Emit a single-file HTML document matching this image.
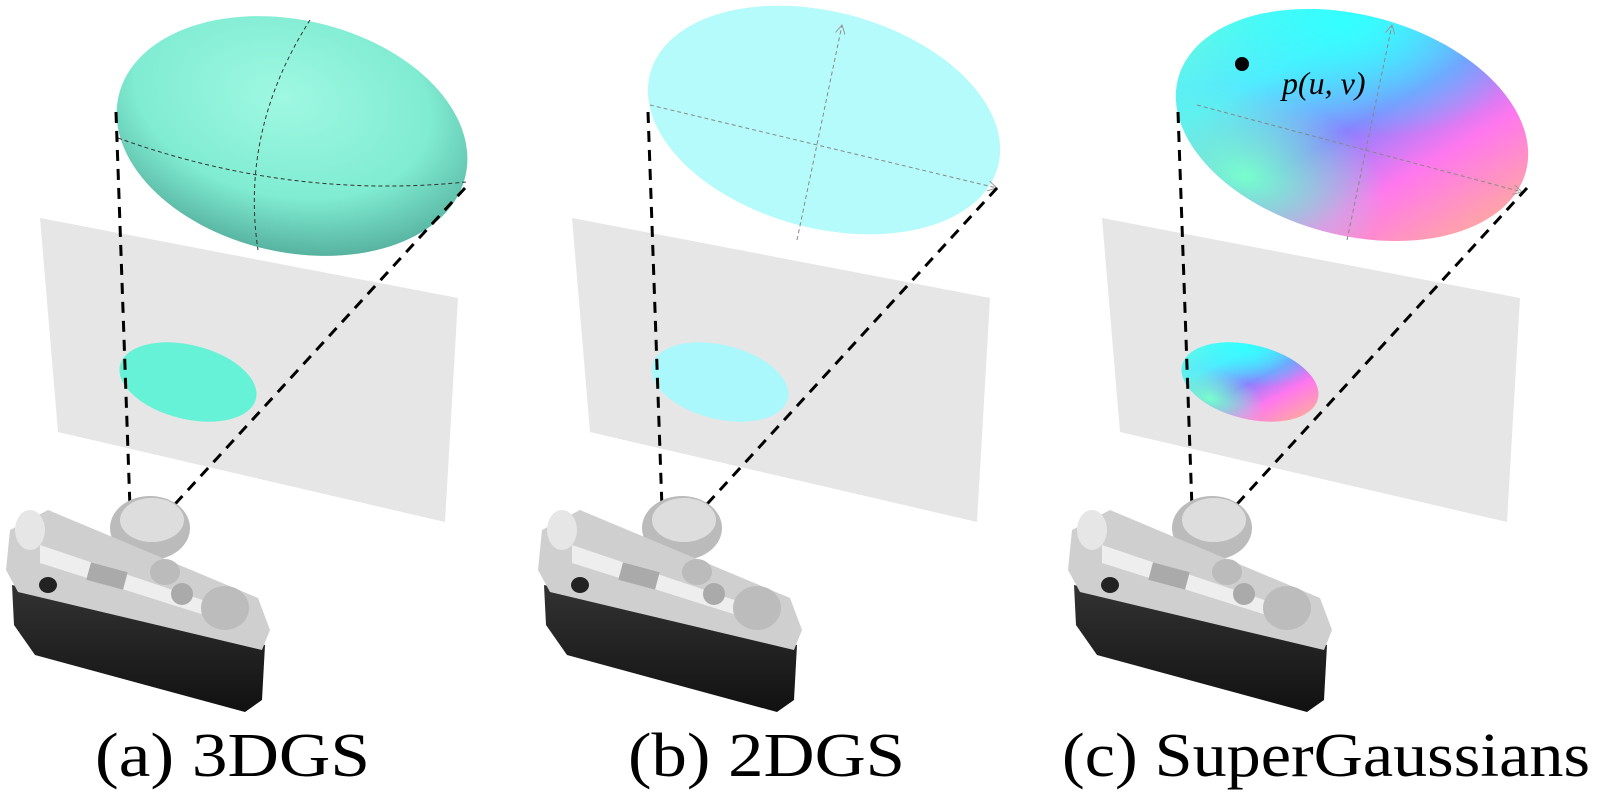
<!DOCTYPE html>
<html><head><meta charset="utf-8"><style>
html,body{margin:0;padding:0;background:#fff;}
svg{display:block}
text{font-family:"Liberation Serif",serif;}
</style></head><body>
<svg width="1599" height="798" viewBox="0 0 1599 798" xmlns="http://www.w3.org/2000/svg">
<defs>
<radialGradient id="g3" cx="0.45" cy="0.35" r="0.7">
<stop offset="0" stop-color="#9ff8e2"/><stop offset="0.6" stop-color="#80ecd2"/><stop offset="1" stop-color="#4fa896"/>
</radialGradient>
<linearGradient id="cA" x1="0" y1="0.1" x2="1" y2="0.7">
<stop offset="0" stop-color="#66ffdd"/><stop offset="0.3" stop-color="#55e8ff"/><stop offset="0.55" stop-color="#8a80ff"/><stop offset="0.75" stop-color="#ff77ee"/><stop offset="1" stop-color="#ffa8a0"/>
</linearGradient>
<radialGradient id="cB" cx="0.4" cy="0.05" r="0.5">
<stop offset="0" stop-color="#33ffff"/><stop offset="1" stop-color="#33ffff" stop-opacity="0"/>
</radialGradient>
<radialGradient id="cC" cx="0.25" cy="0.85" r="0.4">
<stop offset="0" stop-color="#77ffcc"/><stop offset="1" stop-color="#77ffcc" stop-opacity="0"/>
</radialGradient>
<linearGradient id="body" x1="0" y1="0" x2="0" y2="1">
<stop offset="0" stop-color="#333"/><stop offset="1" stop-color="#111"/>
</linearGradient>
<marker id="ar" markerWidth="10" markerHeight="10" refX="9" refY="5" orient="auto" markerUnits="userSpaceOnUse">
<path d="M0,0 L9,5 L0,10" fill="none" stroke="#999" stroke-width="1"/>
</marker>
<g id="cam">
<ellipse cx="150" cy="528" rx="40" ry="32" fill="#bbb"/>
<ellipse cx="152" cy="520" rx="32" ry="22" fill="#ddd"/>
<polygon points="12,585 265,645 262,700 245,712 35,655 14,625" fill="url(#body)"/>
<polygon points="10,530 48,510 258,598 270,630 262,650 18,592 6,570" fill="#cfcfcf"/>
<polygon points="40,545 232,610 236,625 40,563" fill="#eee"/>
<ellipse cx="30" cy="530" rx="15" ry="20" fill="#e6e6e6"/>
<ellipse cx="225" cy="608" rx="24" ry="22" fill="#bcbcbc"/>
<ellipse cx="165" cy="572" rx="15" ry="13" fill="#bbb"/>
<ellipse cx="182" cy="594" rx="11" ry="11" fill="#aaa"/>
<ellipse cx="48" cy="585" rx="9" ry="8" fill="#222"/>
<rect x="88" y="567" width="38" height="18" fill="#aaa" transform="rotate(15 107 576)"/>
</g>
</defs>

<!-- Panel a -->
<polygon points="40,218 458,298 445,522 58,432" fill="#e6e6e6"/>
<ellipse cx="188" cy="382" rx="70" ry="37" transform="rotate(14 188 382)" fill="#66f2d6"/>
<ellipse cx="292" cy="136" rx="178" ry="116" transform="rotate(13 292 136)" fill="url(#g3)"/>
<path d="M118,138 Q290,200 466,182" fill="none" stroke="#333" stroke-width="1" stroke-dasharray="4,3"/>
<path d="M310,20 Q240,130 258,250" fill="none" stroke="#333" stroke-width="1" stroke-dasharray="4,3"/>
<line x1="116" y1="112" x2="130" y2="508" stroke="#000" stroke-width="3" stroke-dasharray="11,8"/>
<line x1="465" y1="188" x2="165" y2="515" stroke="#000" stroke-width="3" stroke-dasharray="11,8"/>
<use href="#cam"/>

<!-- Panel b -->
<g transform="translate(532,0)">
<polygon points="40,218 458,298 445,522 58,432" fill="#e6e6e6"/>
<ellipse cx="188" cy="382" rx="70" ry="37" transform="rotate(14 188 382)" fill="#aaf8fb"/>
<ellipse cx="292" cy="120" rx="180" ry="108" transform="rotate(15 292 120)" fill="#b5fbfb"/>
<line x1="118" y1="105" x2="465" y2="188" stroke="#888" stroke-width="1" stroke-dasharray="4,3" marker-end="url(#ar)"/>
<line x1="265" y1="240" x2="310" y2="25" stroke="#888" stroke-width="1" stroke-dasharray="4,3" marker-end="url(#ar)"/>
<line x1="116" y1="112" x2="130" y2="508" stroke="#000" stroke-width="3" stroke-dasharray="11,8"/>
<line x1="465" y1="188" x2="165" y2="515" stroke="#000" stroke-width="3" stroke-dasharray="11,8"/>
<use href="#cam"/>
</g>

<!-- Panel c -->
<g transform="translate(1062,0)">
<polygon points="40,218 458,298 445,522 58,432" fill="#e6e6e6"/>
<ellipse cx="188" cy="382" rx="70" ry="37" transform="rotate(14 188 382)" fill="url(#cA)"/>
<ellipse cx="188" cy="382" rx="70" ry="37" transform="rotate(14 188 382)" fill="url(#cB)"/>
<ellipse cx="188" cy="382" rx="70" ry="37" transform="rotate(14 188 382)" fill="url(#cC)"/>
<ellipse cx="290" cy="125" rx="180" ry="110" transform="rotate(15 290 125)" fill="url(#cA)"/>
<ellipse cx="290" cy="125" rx="180" ry="110" transform="rotate(15 290 125)" fill="url(#cB)"/>
<ellipse cx="290" cy="125" rx="180" ry="110" transform="rotate(15 290 125)" fill="url(#cC)"/>
<line x1="135" y1="105" x2="460" y2="192" stroke="#888" stroke-width="1" stroke-dasharray="4,3" marker-end="url(#ar)"/>
<line x1="285" y1="240" x2="330" y2="25" stroke="#888" stroke-width="1" stroke-dasharray="4,3" marker-end="url(#ar)"/>
<line x1="116" y1="112" x2="130" y2="508" stroke="#000" stroke-width="3" stroke-dasharray="11,8"/>
<line x1="465" y1="188" x2="165" y2="515" stroke="#000" stroke-width="3" stroke-dasharray="11,8"/>
<circle cx="180" cy="64" r="7" fill="#000"/>
<text x="220" y="94" font-size="32" font-style="italic" fill="#000">p(u, v)</text>
<use href="#cam"/>
</g>

<text x="95" y="776" font-size="62" textLength="275" lengthAdjust="spacingAndGlyphs" fill="#000">(a) 3DGS</text>
<text x="628" y="776" font-size="62" textLength="277" lengthAdjust="spacingAndGlyphs" fill="#000">(b) 2DGS</text>
<text x="1062" y="776" font-size="62" textLength="528" lengthAdjust="spacingAndGlyphs" fill="#000">(c) SuperGaussians</text>
</svg>
</body></html>
